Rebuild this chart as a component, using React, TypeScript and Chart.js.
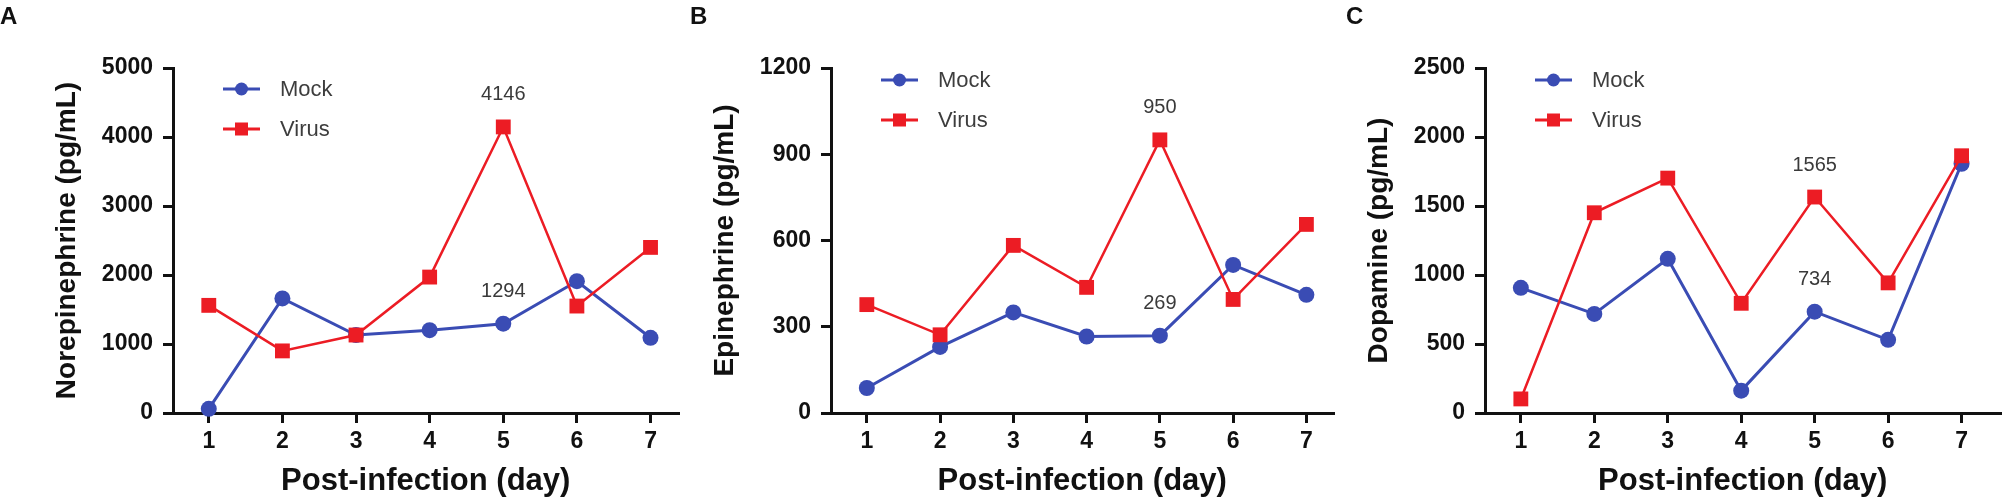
import { useEffect, useRef } from 'react';
import { Chart, registerables } from 'chart.js';

Chart.register(...registerables);

// days on the x axis
const days = [1, 2, 3, 4, 5, 6, 7];

// A: norepinephrine (pg/mL)
const norMock = [60, 1660, 1130, 1200, 1294, 1910, 1090];
const norVirus = [1560, 900, 1130, 1970, 4146, 1550, 2400];
const norNotes = [4146, 1294];

// B: epinephrine (pg/mL)
const epiMock = [87, 230, 350, 266, 269, 515, 411];
const epiVirus = [377, 272, 583, 437, 950, 395, 656];
const epiNotes = [950, 269];

// C: dopamine (pg/mL)
const dopMock = [907, 718, 1117, 162, 734, 530, 1806];
const dopVirus = [102, 1451, 1702, 795, 1565, 943, 1864];
const dopNotes = [1565, 734];

const noteDay = 5;

const BLUE = '#3a4cb4';
const RED = '#ec1c24';
const INK = '#111111';
const FONT = "'Liberation Sans', Arial, sans-serif";

type PanelProps = {
  letter: string;
  yTitle: string;
  mock: number[];
  virus: number[];
  notes: number[];
  yMax: number;
  yStep: number;
  xMin: number;
  xMax: number;
  left: number; // canvas left on the page
  width: number;
  letterX: number;
  legendTop: number;
};

const Panel = (p: PanelProps) => {
  const canvasRef = useRef<HTMLCanvasElement>(null);

  useEffect(() => {
    if (!canvasRef.current) return;

    const extras = {
      id: 'extras',
      afterDatasetsDraw(chart: any) {
        const { ctx, chartArea, scales } = chart;
        ctx.save();
        // value labels above day 5
        ctx.font = `20px ${FONT}`;
        ctx.fillStyle = '#3a3a3a';
        ctx.textAlign = 'center';
        ctx.textBaseline = 'middle';
        p.notes.forEach((v) => {
          ctx.fillText(String(v), scales.x.getPixelForValue(noteDay), scales.y.getPixelForValue(v) - 32);
        });

        // legend
        const L = chartArea.left;
        const rows = [
          { name: 'Mock', color: BLUE, square: false },
          { name: 'Virus', color: RED, square: true },
        ];
        rows.forEach((r, i) => {
          const y = chartArea.top + p.legendTop + i * 40;
          ctx.strokeStyle = r.color;
          ctx.lineWidth = 3;
          ctx.beginPath();
          ctx.moveTo(L + 50, y);
          ctx.lineTo(L + 87, y);
          ctx.stroke();
          ctx.fillStyle = r.color;
          if (r.square) {
            ctx.fillRect(L + 62, y - 6.5, 13, 13);
          } else {
            ctx.beginPath();
            ctx.arc(L + 68.5, y, 6.5, 0, Math.PI * 2);
            ctx.fill();
          }
          ctx.fillStyle = '#3d3d3d';
          ctx.font = `22px ${FONT}`;
          ctx.textAlign = 'left';
          ctx.fillText(r.name, L + 107, y + 1);
        });

        // panel letter
        ctx.fillStyle = INK;
        ctx.font = `bold 24px ${FONT}`;
        ctx.textAlign = 'left';
        ctx.textBaseline = 'alphabetic';
        ctx.fillText(p.letter, p.letterX, 24);
        ctx.restore();
      },
    };

    const tickFont = { family: FONT, size: 23, weight: 'bold' as const };

    const chart = new Chart(canvasRef.current, {
      type: 'line',
      data: {
        datasets: [
          {
            label: 'Mock',
            data: days.map((d, i) => ({ x: d, y: p.mock[i] })),
            borderColor: BLUE,
            backgroundColor: BLUE,
            borderWidth: 3,
            pointStyle: 'circle',
            pointRadius: 8,
            pointBorderWidth: 0,
            clip: false,
            order: 1,
          },
          {
            label: 'Virus',
            data: days.map((d, i) => ({ x: d, y: p.virus[i] })),
            borderColor: RED,
            backgroundColor: RED,
            borderWidth: 2.5,
            pointStyle: 'rect',
            pointRadius: 10.5,
            pointBorderWidth: 0,
            clip: false,
            order: 0,
          },
        ],
      },
      options: {
        responsive: false,
        animation: false,
        layout: { padding: { left: 0, right: 8, top: 68, bottom: 0 } },
        plugins: { legend: { display: false }, tooltip: { enabled: false } },
        scales: {
          x: {
            type: 'linear',
            min: p.xMin,
            max: p.xMax,
            afterBuildTicks: (s: any) => {
              s.ticks = days.map((v) => ({ value: v }));
            },
            afterFit: (s: any) => {
              s.height = 88;
            },
            grid: { drawOnChartArea: false, drawTicks: true, tickLength: 10, lineWidth: 3, color: INK },
            border: { display: true, width: 3, color: INK },
            ticks: { font: tickFont, color: INK, padding: 5, callback: (v: any) => String(v) },
            title: {
              display: true,
              text: 'Post-infection (day)',
              color: INK,
              font: { family: FONT, size: 31, weight: 'bold' },
              padding: { top: 0, bottom: 1 },
            },
          },
          y: {
            min: 0,
            max: p.yMax,
            afterFit: (s: any) => {
              s.width = 173;
            },
            grid: { drawOnChartArea: false, drawTicks: true, tickLength: 10, lineWidth: 3, color: INK },
            border: { display: true, width: 3, color: INK },
            ticks: { stepSize: p.yStep, font: tickFont, color: INK, padding: 10, callback: (v: any) => String(v) },
            title: {
              display: true,
              text: p.yTitle,
              color: INK,
              font: { family: FONT, size: 28, weight: 'bold' },
              padding: { top: 50, bottom: 0 },
            },
          },
        },
      },
      plugins: [extras],
    });

    return () => {
      chart.destroy();
    };
  }, []);

  return (
    <canvas
      ref={canvasRef}
      width={p.width}
      height={501}
      style={{ position: 'absolute', left: p.left, top: 0, width: p.width, height: 501 }}
    />
  );
};

export default function App() {
  return (
    <div
      style={{
        position: 'absolute',
        left: 0,
        top: 0,
        width: 2008,
        height: 501,
        overflow: 'hidden',
        background: 'white',
      }}
    >
      <Panel letter="A" yTitle="Norepinephrine (pg/mL)" mock={norMock} virus={norVirus} notes={norNotes}
        yMax={5000} yStep={1000} xMin={0.514} xMax={7.38} left={0} width={689} letterX={0} legendTop={21} />
      <Panel letter="B" yTitle="Epinephrine (pg/mL)" mock={epiMock} virus={epiVirus} notes={epiNotes}
        yMax={1200} yStep={300} xMin={0.511} xMax={7.37} left={658} width={686} letterX={32} legendTop={12} />
      <Panel letter="C" yTitle="Dopamine (pg/mL)" mock={dopMock} virus={dopVirus} notes={dopNotes}
        yMax={2500} yStep={500} xMin={0.512} xMax={7.53} left={1312} width={699} letterX={34} legendTop={12} />
    </div>
  );
}
